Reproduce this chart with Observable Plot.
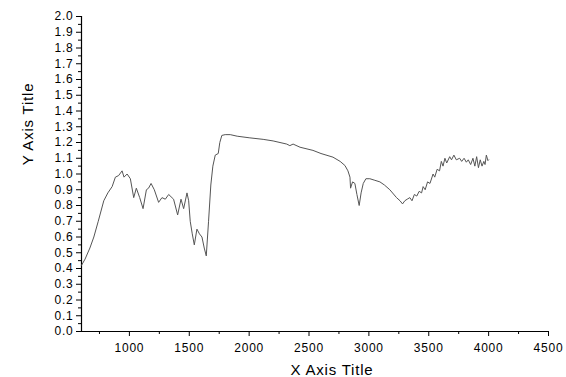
<!DOCTYPE html>
<html>
<head>
<meta charset="utf-8">
<script src="https://cdn.jsdelivr.net/npm/d3@7"></script>
<script src="https://cdn.jsdelivr.net/npm/@observablehq/plot@0.6"></script>
<style>
  html, body { margin: 0; padding: 0; background: #fff; }
  #chart { width: 566px; height: 377px; }
  #chart svg text { letter-spacing: 0.8px; }
</style>
</head>
<body>
<div id="chart"></div>
<script>
const wavenumber = [600,630,670,703,740,786,820,856,883,910,939,955,981,1008,1036,1058,1086,1114,1142,1160,1181,1208,1244,1272,1300,1328,1369,1403,1431,1453,1481,1495,1508,1525,1542,1564,1585,1606,1625,1642,1661,1680,1697,1717,1742,1755,1772,1800,1842,1900,2000,2117,2200,2314,2340,2367,2425,2533,2600,2700,2760,2800,2825,2842,2847,2855,2864,2883,2900,2919,2935,2953,2975,3008,3050,3092,3130,3175,3231,3260,3281,3300,3320,3342,3360,3380,3400,3420,3440,3453,3470,3490,3510,3536,3550,3570,3590,3605,3619,3635,3650,3675,3690,3710,3730,3758,3775,3795,3814,3830,3850,3869,3885,3900,3915,3930,3945,3960,3970,3981,3994,4000];
const absorbance = [0.42,0.46,0.53,0.60,0.70,0.83,0.88,0.92,0.98,0.99,1.02,0.98,1.00,0.97,0.85,0.91,0.85,0.78,0.90,0.91,0.94,0.90,0.82,0.85,0.84,0.87,0.84,0.74,0.84,0.78,0.88,0.83,0.70,0.62,0.55,0.65,0.62,0.60,0.53,0.48,0.70,0.93,1.05,1.12,1.13,1.20,1.245,1.25,1.25,1.24,1.23,1.22,1.21,1.19,1.18,1.19,1.17,1.15,1.13,1.107,1.08,1.054,1.02,0.98,0.91,0.93,0.95,0.94,0.87,0.80,0.88,0.94,0.97,0.97,0.96,0.95,0.93,0.90,0.85,0.83,0.81,0.83,0.84,0.85,0.83,0.87,0.86,0.89,0.88,0.92,0.90,0.95,0.94,1.00,0.98,1.03,1.02,1.08,1.05,1.10,1.07,1.11,1.09,1.12,1.09,1.10,1.08,1.10,1.075,1.09,1.06,1.10,1.05,1.11,1.04,1.09,1.05,1.08,1.06,1.12,1.085,1.09];

const xMajorTicks = [1000,1500,2000,2500,3000,3500,4000,4500];
const xMinorTicks = [750,1250,1750,2250,2750,3250,3750,4250];
const yMajorTicks = [0,0.1,0.2,0.3,0.4,0.5,0.6,0.7,0.8,0.9,1.0,1.1,1.2,1.3,1.4,1.5,1.6,1.7,1.8,1.9,2.0];
const yMinorTicks = [0.05,0.15,0.25,0.35,0.45,0.55,0.65,0.75,0.85,0.95,1.05,1.15,1.25,1.35,1.45,1.55,1.65,1.75,1.85,1.95];
const xDomain = [600, 4500];
const yDomain = [0, 2];
const xTitle = "X Axis Title";
const yTitle = "Y Axis Title";

const data = wavenumber.map((w, i) => ({x: w, y: absorbance[i]}));

const chart = Plot.plot({
  width: 566,
  height: 377,
  marginLeft: 81,
  marginRight: 18,
  marginTop: 16,
  marginBottom: 46,
  style: {fontFamily: "'Liberation Sans', Arial, sans-serif", fontSize: "12px", color: "#000", background: "#fff"},
  x: {domain: xDomain},
  y: {domain: yDomain},
  marks: [
    Plot.axisX({ticks: xMajorTicks, tickSize: 5, tickPadding: 7, fontSize: 12, label: null, tickFormat: d => String(d)}),
    Plot.axisX({ticks: xMinorTicks, tickSize: 3, text: null, label: null}),
    Plot.axisY({ticks: yMajorTicks, tickSize: 5, tickPadding: 3, fontSize: 12, label: null, tickFormat: d => d.toFixed(1)}),
    Plot.axisY({ticks: yMinorTicks, tickSize: 3, text: null, label: null}),
    Plot.ruleX([xDomain[0]], {stroke: "#000", strokeWidth: 1.2}),
    Plot.ruleY([yDomain[0]], {stroke: "#000", strokeWidth: 1.2}),
    Plot.line(data, {x: "x", y: "y", stroke: "#555", strokeWidth: 1})
  ]
});

const svg = d3.select(chart);
svg.append("text")
  .attr("x", 332).attr("y", 375)
  .attr("text-anchor", "middle")
  .attr("font-size", 15)
  .attr("fill", "#000")
  .text(xTitle);
svg.append("text")
  .attr("transform", "translate(33,124) rotate(-90)")
  .attr("text-anchor", "middle")
  .attr("font-size", 15)
  .attr("fill", "#000")
  .text(yTitle);

document.getElementById("chart").appendChild(chart);
</script>
</body>
</html>
